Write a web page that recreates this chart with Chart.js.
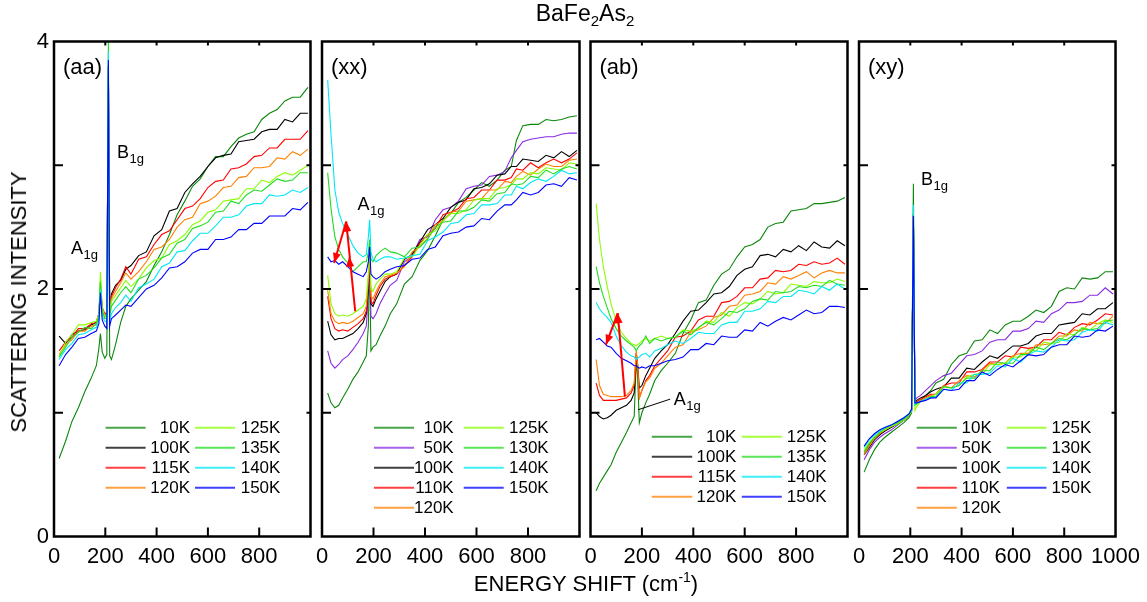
<!DOCTYPE html>
<html>
<head>
<meta charset="utf-8">
<title>BaFe2As2 Raman spectra</title>
<script src="https://cdn.jsdelivr.net/npm/chart.js@4.4.1/dist/chart.umd.min.js"></script>
<style>
  html, body { margin: 0; padding: 0; background: #fff; }
  #wrap { position: relative; width: 1147px; height: 602px; overflow: hidden;
          font-family: "Liberation Sans", Arial, sans-serif; color: #000; }
  #wrap canvas { position: absolute; left: 0; top: 0; }
  #title { position: absolute; left: 585px; top: 2px; transform: translateX(-50%);
           font-size: 23px; line-height: 23px; white-space: nowrap; }
  #title sub { font-size: 15px; vertical-align: -5px; line-height: 0; }
  #ytitle { position: absolute; left: 19px; top: 302px; transform: translate(-50%, -50%) rotate(-90deg);
            font-size: 22px; line-height: 22px; white-space: nowrap; }
  #xtitle { position: absolute; left: 586px; top: 573px; transform: translateX(-50%);
            font-size: 22px; line-height: 22px; white-space: nowrap; }
  #xtitle sup { font-size: 14px; vertical-align: 9px; line-height: 0; }
</style>
</head>
<body>
<div id="wrap">
  <canvas id="panel-aa" width="1147" height="602"></canvas>
  <canvas id="panel-xx" width="1147" height="602"></canvas>
  <canvas id="panel-ab" width="1147" height="602"></canvas>
  <canvas id="panel-xy" width="1147" height="602"></canvas>
  <div id="title">BaFe<sub>2</sub>As<sub>2</sub></div>
  <div id="ytitle">SCATTERING INTENSITY</div>
  <div id="xtitle">ENERGY SHIFT (cm<sup>-1</sup>)</div>
</div>
<script>
// axis ticks
const shiftTicks = [0, 200, 400, 600, 800, 1000];
const intensityTicks = [0, 1, 2, 3, 4];
const intensityLabels = [0, 2, 4];

// (aa) polarization
const aaShift = [20, 45, 70, 95, 120, 145, 165, 175, 181, 188, 198, 206, 212, 217, 224, 240, 260, 280, 300, 330, 360, 390, 420, 450, 480, 510, 540, 570, 600, 630, 660, 690, 720, 750, 780, 810, 840, 870, 900, 930, 960, 990];
const aaTemps = ['10K', '100K', '115K', '120K', '125K', '135K', '140K', '150K'];
const aaIntensity = [
  [0.63, 0.77, 0.93, 1.04, 1.17, 1.28, 1.38, 1.52, 1.64, 1.49, 1.44, 1.47, 3.8, 1.46, 1.43, 1.55, 1.73, 1.86, 1.92, 1.99, 2.06, 2.19, 2.3, 2.44, 2.6, 2.71, 2.83, 2.89, 2.99, 3.07, 3.07, 3.15, 3.22, 3.25, 3.27, 3.37, 3.42, 3.45, 3.52, 3.55, 3.55, 3.63],
  [1.62, 1.56, 1.63, 1.66, 1.67, 1.71, 1.73, 1.8, 2.02, 1.83, 1.78, 1.8, 3.8, 1.86, 1.96, 2.03, 2.07, 2.16, 2.19, 2.27, 2.3, 2.43, 2.48, 2.63, 2.65, 2.78, 2.85, 2.91, 2.99, 3.06, 3.08, 3.09, 3.19, 3.2, 3.21, 3.27, 3.29, 3.29, 3.37, 3.35, 3.42, 3.42],
  [1.5, 1.57, 1.61, 1.68, 1.68, 1.72, 1.73, 1.8, 2.05, 1.85, 1.8, 1.81, 3.8, 1.85, 1.94, 2.01, 2.08, 2.18, 2.12, 2.24, 2.26, 2.36, 2.44, 2.47, 2.56, 2.65, 2.67, 2.73, 2.82, 2.87, 2.88, 2.97, 2.98, 3.01, 3.07, 3.08, 3.14, 3.14, 3.21, 3.21, 3.21, 3.28],
  [1.47, 1.55, 1.59, 1.66, 1.66, 1.7, 1.71, 1.78, 2.0, 1.83, 1.78, 1.79, 3.8, 1.82, 1.92, 1.98, 2.05, 2.13, 2.08, 2.14, 2.22, 2.32, 2.34, 2.4, 2.5, 2.56, 2.58, 2.69, 2.71, 2.75, 2.82, 2.83, 2.9, 2.91, 2.98, 2.98, 2.99, 3.06, 3.05, 3.11, 3.08, 3.13],
  [1.45, 1.57, 1.63, 1.71, 1.71, 1.73, 1.74, 1.8, 2.14, 1.85, 1.78, 1.79, 3.8, 1.8, 1.9, 1.95, 2.01, 2.07, 2.02, 2.08, 2.17, 2.23, 2.25, 2.36, 2.39, 2.44, 2.52, 2.55, 2.62, 2.64, 2.71, 2.72, 2.73, 2.81, 2.81, 2.88, 2.86, 2.91, 2.94, 2.92, 2.96, 3.0],
  [1.45, 1.53, 1.61, 1.65, 1.69, 1.68, 1.72, 1.77, 2.06, 1.82, 1.76, 1.77, 4.0, 1.78, 1.86, 1.91, 1.97, 2.02, 1.97, 2.08, 2.11, 2.17, 2.25, 2.28, 2.37, 2.4, 2.49, 2.51, 2.54, 2.62, 2.63, 2.71, 2.69, 2.76, 2.8, 2.79, 2.84, 2.89, 2.87, 2.88, 2.94, 2.94],
  [1.43, 1.51, 1.56, 1.63, 1.64, 1.67, 1.69, 1.75, 2.0, 1.78, 1.74, 1.73, 3.92, 1.74, 1.8, 1.85, 1.89, 1.95, 1.9, 2.01, 2.04, 2.08, 2.18, 2.21, 2.3, 2.31, 2.39, 2.45, 2.45, 2.51, 2.58, 2.58, 2.6, 2.67, 2.69, 2.69, 2.76, 2.75, 2.76, 2.8, 2.78, 2.82],
  [1.38, 1.47, 1.53, 1.6, 1.61, 1.64, 1.66, 1.72, 1.97, 1.75, 1.7, 1.68, 3.85, 1.7, 1.76, 1.79, 1.83, 1.87, 1.86, 1.93, 2.0, 2.03, 2.09, 2.17, 2.18, 2.22, 2.29, 2.32, 2.32, 2.4, 2.4, 2.42, 2.48, 2.48, 2.53, 2.53, 2.59, 2.59, 2.59, 2.65, 2.64, 2.7]
];

// (xx) polarization
const xxShift = [22, 35, 50, 65, 80, 100, 120, 140, 160, 172, 180, 185, 190, 198, 210, 225, 245, 265, 290, 320, 350, 380, 410, 440, 470, 500, 530, 560, 590, 620, 650, 680, 710, 735, 755, 780, 810, 840, 870, 900, 930, 960, 990];
const xxTemps = ['10K', '50K', '100K', '110K', '120K', '125K', '130K', '140K', '150K'];
const xxIntensity = [
  [1.16, 1.08, 1.04, 1.06, 1.12, 1.19, 1.27, 1.33, 1.41, 1.46, 1.7, 2.25, 1.5, 1.53, 1.55, 1.62, 1.7, 1.8, 1.88, 2.04, 2.1, 2.23, 2.31, 2.43, 2.56, 2.61, 2.7, 2.74, 2.8, 2.86, 2.83, 2.88, 2.96, 2.99, 3.2, 3.32, 3.33, 3.33, 3.37, 3.36, 3.37, 3.39, 3.4],
  [1.5, 1.4, 1.36, 1.39, 1.43, 1.46, 1.51, 1.57, 1.64, 1.7, 1.95, 2.25, 1.78, 1.76, 1.8, 1.88, 1.96, 2.03, 2.07, 2.22, 2.27, 2.4, 2.42, 2.56, 2.64, 2.66, 2.71, 2.81, 2.83, 2.84, 2.91, 2.92, 2.95, 3.06, 3.12, 3.19, 3.21, 3.22, 3.23, 3.23, 3.25, 3.26, 3.26],
  [1.74, 1.63, 1.59, 1.6, 1.6, 1.62, 1.64, 1.68, 1.73, 1.8, 2.0, 2.3, 1.88, 1.86, 1.92, 1.98, 2.06, 2.1, 2.12, 2.24, 2.28, 2.38, 2.48, 2.52, 2.57, 2.66, 2.7, 2.72, 2.81, 2.82, 2.85, 2.92, 2.93, 2.99, 2.99, 3.05, 3.04, 3.03, 3.08, 3.06, 3.11, 3.07, 3.12],
  [1.94, 1.76, 1.68, 1.66, 1.67, 1.66, 1.69, 1.72, 1.76, 1.82, 2.05, 2.3, 1.9, 1.88, 1.95, 2.02, 2.08, 2.1, 2.12, 2.19, 2.26, 2.37, 2.44, 2.49, 2.6, 2.62, 2.65, 2.73, 2.74, 2.8, 2.8, 2.88, 2.88, 2.9, 2.97, 2.96, 3.02, 2.98, 3.02, 3.05, 3.02, 3.05, 3.1],
  [1.99, 1.8, 1.74, 1.72, 1.73, 1.72, 1.74, 1.77, 1.8, 1.86, 2.08, 2.32, 1.94, 1.92, 1.98, 2.04, 2.1, 2.11, 2.13, 2.18, 2.3, 2.34, 2.41, 2.52, 2.55, 2.62, 2.63, 2.71, 2.72, 2.73, 2.8, 2.8, 2.87, 2.86, 2.91, 2.95, 2.92, 2.97, 3.01, 2.99, 2.99, 3.04, 3.05],
  [2.11, 1.88, 1.8, 1.78, 1.79, 1.78, 1.8, 1.83, 1.86, 1.92, 2.12, 2.36, 2.0, 1.98, 2.04, 2.08, 2.12, 2.12, 2.14, 2.25, 2.26, 2.35, 2.44, 2.47, 2.55, 2.61, 2.61, 2.64, 2.72, 2.73, 2.73, 2.81, 2.82, 2.84, 2.89, 2.89, 2.94, 2.93, 2.98, 2.97, 2.96, 3.02, 3.01],
  [2.94, 2.65, 2.42, 2.32, 2.26, 2.21, 2.14, 2.18, 2.22, 2.22, 2.3, 2.4, 2.24, 2.22, 2.27, 2.3, 2.33, 2.3, 2.29, 2.26, 2.33, 2.34, 2.4, 2.5, 2.54, 2.55, 2.63, 2.63, 2.66, 2.72, 2.71, 2.77, 2.78, 2.85, 2.84, 2.85, 2.91, 2.9, 2.96, 2.93, 2.97, 2.99, 2.97],
  [3.69, 3.25, 2.8, 2.62, 2.53, 2.44, 2.35, 2.29, 2.26, 2.28, 2.42, 2.56, 2.3, 2.24, 2.22, 2.24, 2.26, 2.26, 2.24, 2.25, 2.27, 2.28, 2.39, 2.42, 2.46, 2.53, 2.54, 2.6, 2.61, 2.68, 2.68, 2.69, 2.76, 2.76, 2.83, 2.81, 2.86, 2.89, 2.87, 2.91, 2.96, 2.93, 2.94],
  [2.26, 2.22, 2.23, 2.2, 2.22, 2.18, 2.14, 2.12, 2.1, 2.14, 2.22, 2.34, 2.12, 2.1, 2.08, 2.1, 2.14, 2.16, 2.18, 2.19, 2.24, 2.25, 2.32, 2.34, 2.43, 2.45, 2.46, 2.5, 2.51, 2.57, 2.56, 2.63, 2.68, 2.68, 2.72, 2.78, 2.76, 2.78, 2.84, 2.85, 2.83, 2.9, 2.88]
];

// (ab) polarization
const abShift = [22, 35, 50, 65, 80, 100, 120, 140, 158, 170, 178, 183, 190, 200, 215, 230, 250, 275, 300, 330, 360, 390, 420, 450, 480, 510, 540, 570, 600, 630, 660, 690, 720, 750, 780, 810, 840, 870, 900, 930, 960, 990];
const abTemps = ['10K', '100K', '115K', '120K', '125K', '135K', '140K', '150K'];
const abIntensity = [
  [0.37, 0.43, 0.48, 0.53, 0.58, 0.68, 0.76, 0.84, 0.92, 0.97, 1.42, 1.3, 0.92, 1.0, 1.08, 1.15, 1.26, 1.34, 1.4, 1.48, 1.64, 1.75, 1.89, 1.91, 2.03, 2.12, 2.16, 2.26, 2.34, 2.36, 2.4, 2.5, 2.53, 2.54, 2.63, 2.64, 2.65, 2.69, 2.69, 2.7, 2.71, 2.74],
  [1.0, 0.97, 0.95, 0.96, 0.98, 1.02, 1.04, 1.06, 1.1, 1.16, 1.48, 1.4, 1.2, 1.22, 1.3, 1.36, 1.44, 1.5, 1.55, 1.64, 1.74, 1.82, 1.83, 1.89, 1.96, 1.97, 2.02, 2.11, 2.16, 2.18, 2.27, 2.28, 2.26, 2.32, 2.3, 2.35, 2.31, 2.38, 2.34, 2.33, 2.39, 2.35],
  [1.24, 1.14, 1.1, 1.1, 1.1, 1.1, 1.11, 1.12, 1.16, 1.22, 1.48, 1.38, 1.12, 1.18, 1.26, 1.3, 1.38, 1.44, 1.5, 1.61, 1.62, 1.66, 1.75, 1.78, 1.78, 1.89, 1.9, 1.94, 2.01, 2.01, 2.08, 2.09, 2.15, 2.14, 2.15, 2.2, 2.19, 2.22, 2.2, 2.21, 2.25, 2.2],
  [1.43, 1.22, 1.15, 1.14, 1.13, 1.13, 1.13, 1.14, 1.18, 1.24, 1.5, 1.4, 1.12, 1.18, 1.25, 1.28, 1.36, 1.4, 1.46, 1.53, 1.55, 1.65, 1.67, 1.7, 1.77, 1.79, 1.86, 1.87, 1.95, 1.96, 1.98, 2.05, 2.04, 2.1, 2.08, 2.11, 2.14, 2.09, 2.13, 2.15, 2.13, 2.13],
  [2.69, 2.4, 2.18, 2.02, 1.88, 1.74, 1.65, 1.6, 1.56, 1.55, 1.54, 1.55, 1.56, 1.58, 1.6, 1.58, 1.6, 1.62, 1.6, 1.61, 1.67, 1.66, 1.68, 1.74, 1.73, 1.81, 1.78, 1.85, 1.89, 1.88, 1.92, 1.98, 1.96, 1.97, 2.04, 2.03, 2.02, 2.06, 2.05, 2.05, 2.08, 2.06],
  [2.18, 2.05, 1.94, 1.85, 1.76, 1.68, 1.62, 1.58, 1.55, 1.53, 1.5, 1.52, 1.54, 1.56, 1.62, 1.56, 1.6, 1.58, 1.6, 1.61, 1.66, 1.63, 1.69, 1.73, 1.71, 1.76, 1.82, 1.81, 1.84, 1.9, 1.92, 1.91, 1.98, 1.97, 1.98, 2.02, 2.01, 2.03, 2.02, 2.07, 2.04, 2.03],
  [1.89, 1.84, 1.8, 1.77, 1.73, 1.62, 1.54, 1.49, 1.46, 1.45, 1.43, 1.44, 1.45, 1.47, 1.48, 1.45, 1.5, 1.52, 1.55, 1.58, 1.56, 1.6, 1.65, 1.64, 1.64, 1.71, 1.73, 1.73, 1.82, 1.82, 1.84, 1.9, 1.89, 1.94, 1.94, 1.99, 1.98, 1.96, 2.02, 1.99, 2.04, 2.0],
  [1.59, 1.6, 1.57, 1.54, 1.53, 1.48, 1.44, 1.42, 1.4, 1.38, 1.38, 1.37, 1.36, 1.37, 1.36, 1.38, 1.38, 1.4, 1.42, 1.43, 1.45, 1.51, 1.51, 1.56, 1.55, 1.62, 1.61, 1.61, 1.67, 1.66, 1.73, 1.7, 1.74, 1.77, 1.75, 1.79, 1.83, 1.8, 1.81, 1.86, 1.86, 1.85]
];

// (xy) polarization
const xyShift = [20, 40, 60, 80, 100, 125, 150, 175, 195, 205, 212, 218, 225, 240, 260, 280, 300, 330, 360, 390, 420, 450, 480, 510, 540, 570, 600, 630, 660, 690, 720, 750, 780, 810, 840, 870, 900, 930, 960, 990];
const xyTemps = ['10K', '50K', '100K', '110K', '120K', '125K', '130K', '140K', '150K'];
const xyIntensity = [
  [0.52, 0.62, 0.7, 0.76, 0.8, 0.84, 0.88, 0.92, 0.96, 1.0, 2.85, 1.1, 1.08, 1.1, 1.14, 1.18, 1.24, 1.27, 1.39, 1.46, 1.48, 1.58, 1.59, 1.67, 1.64, 1.71, 1.74, 1.74, 1.78, 1.83, 1.81, 1.86, 1.98, 2.01, 2.0, 2.09, 2.08, 2.09, 2.14, 2.14],
  [0.62, 0.7, 0.76, 0.8, 0.83, 0.86, 0.9, 0.94, 0.98, 1.02, 2.6, 1.1, 1.12, 1.14, 1.18, 1.22, 1.26, 1.3, 1.32, 1.39, 1.46, 1.47, 1.5, 1.57, 1.59, 1.59, 1.66, 1.66, 1.68, 1.74, 1.73, 1.8, 1.83, 1.89, 1.89, 1.9, 1.95, 1.95, 2.01, 1.96],
  [0.66, 0.72, 0.78, 0.82, 0.85, 0.88, 0.91, 0.94, 0.98, 1.02, 2.6, 1.08, 1.1, 1.12, 1.14, 1.17, 1.19, 1.21, 1.28, 1.28, 1.36, 1.35, 1.41, 1.46, 1.44, 1.49, 1.54, 1.54, 1.56, 1.62, 1.64, 1.64, 1.71, 1.72, 1.73, 1.8, 1.79, 1.84, 1.84, 1.89],
  [0.68, 0.74, 0.8, 0.83, 0.86, 0.89, 0.92, 0.95, 0.99, 1.02, 2.6, 1.08, 1.09, 1.11, 1.13, 1.15, 1.15, 1.22, 1.24, 1.24, 1.33, 1.33, 1.35, 1.41, 1.41, 1.46, 1.45, 1.53, 1.52, 1.53, 1.59, 1.59, 1.65, 1.63, 1.69, 1.72, 1.71, 1.75, 1.8, 1.79],
  [0.66, 0.73, 0.79, 0.83, 0.86, 0.89, 0.92, 0.95, 0.99, 1.02, 2.6, 1.07, 1.08, 1.1, 1.12, 1.14, 1.15, 1.22, 1.2, 1.26, 1.3, 1.29, 1.34, 1.4, 1.39, 1.4, 1.46, 1.48, 1.48, 1.55, 1.55, 1.56, 1.62, 1.62, 1.67, 1.66, 1.73, 1.72, 1.72, 1.78],
  [0.7, 0.76, 0.8, 0.84, 0.86, 0.89, 0.91, 0.94, 0.98, 1.01, 2.6, 1.02, 1.05, 1.09, 1.11, 1.13, 1.15, 1.21, 1.2, 1.22, 1.29, 1.31, 1.31, 1.39, 1.39, 1.4, 1.45, 1.45, 1.51, 1.5, 1.57, 1.56, 1.57, 1.64, 1.63, 1.69, 1.67, 1.72, 1.75, 1.73],
  [0.68, 0.75, 0.8, 0.84, 0.87, 0.9, 0.92, 0.95, 0.99, 1.02, 2.6, 1.06, 1.07, 1.09, 1.11, 1.13, 1.13, 1.21, 1.2, 1.22, 1.28, 1.28, 1.34, 1.34, 1.41, 1.4, 1.4, 1.47, 1.47, 1.53, 1.51, 1.56, 1.6, 1.59, 1.63, 1.68, 1.67, 1.68, 1.74, 1.75],
  [0.72, 0.78, 0.82, 0.85, 0.88, 0.9, 0.93, 0.96, 0.99, 1.03, 2.68, 1.07, 1.08, 1.09, 1.11, 1.12, 1.13, 1.19, 1.18, 1.24, 1.24, 1.31, 1.31, 1.32, 1.38, 1.37, 1.44, 1.41, 1.47, 1.5, 1.49, 1.53, 1.59, 1.58, 1.59, 1.65, 1.67, 1.66, 1.73, 1.71],
  [0.73, 0.79, 0.83, 0.86, 0.88, 0.9, 0.93, 0.96, 0.99, 1.03, 2.59, 1.08, 1.08, 1.09, 1.1, 1.12, 1.12, 1.19, 1.18, 1.19, 1.26, 1.26, 1.33, 1.3, 1.35, 1.39, 1.37, 1.42, 1.47, 1.46, 1.47, 1.53, 1.55, 1.55, 1.62, 1.61, 1.62, 1.67, 1.66, 1.7]
];

const tempColors = {
  '10K': '#0b880b', '50K': '#8a2be2', '100K': '#000000', '110K': '#ff0000', '115K': '#ff0000',
  '120K': '#ff8000', '125K': '#88ff00', '130K': '#22dd22', '135K': '#22dd22', '140K': '#00e8f4', '150K': '#0000ff'
};

const FONT = '"Liberation Sans", Arial, sans-serif';

const panels = [
  { key: 'aa', tag: '(aa)', shift: aaShift, temps: aaTemps, values: aaIntensity,
    left: 54, right: 310.5, yLabels: true, lastLabel: false,
    legend: { top: 427.7, cols: [ { x1: 51.6, x2: 91.6, tx: 136, align: 'right', items: [0, 1, 2, 3] },
                                  { x1: 141, x2: 181, tx: 186.7, align: 'left', items: [4, 5, 6, 7] } ] },
    labels: [ { main: 'A', sub: '1g', x: 66, y: 2.28 }, { main: 'B', sub: '1g', x: 246, y: 3.06 } ],
    arrows: [], pointers: [] },
  { key: 'xx', tag: '(xx)', shift: xxShift, temps: xxTemps, values: xxIntensity,
    left: 322, right: 579.5, yLabels: false, lastLabel: false,
    legend: { top: 427.7, cols: [ { x1: 52, x2: 92, tx: 131.7, align: 'right', items: [0, 1, 2, 3, 4] },
                                  { x1: 141.7, x2: 181.7, tx: 187, align: 'left', items: [5, 6, 7, 8] } ] },
    labels: [ { main: 'A', sub: '1g', x: 138, y: 2.64 } ],
    arrows: [ { from: [129, 1.82], to: [94, 2.545], mid: [105, 2.26] }, { from: [94, 2.545], to: [47, 2.21] } ],
    pointers: [] },
  { key: 'ab', tag: '(ab)', shift: abShift, temps: abTemps, values: abIntensity,
    left: 590.5, right: 847.5, yLabels: false, lastLabel: false,
    legend: { top: 436.7, cols: [ { x1: 61.3, x2: 101.7, tx: 145.8, align: 'right', items: [0, 1, 2, 3] },
                                  { x1: 151.3, x2: 191.3, tx: 196.3, align: 'left', items: [4, 5, 6, 7] } ] },
    labels: [ { main: 'A', sub: '1g', x: 324, y: 1.064 } ],
    arrows: [ { from: [134, 1.13], to: [106, 1.805] }, { from: [106, 1.805], to: [60, 1.55] } ],
    pointers: [ { from: [185, 1.024], to: [310, 1.11] } ] },
  { key: 'xy', tag: '(xy)', shift: xyShift, temps: xyTemps, values: xyIntensity,
    left: 859, right: 1116.5, yLabels: false, lastLabel: true,
    legend: { top: 427.7, cols: [ { x1: 57.7, x2: 97.8, tx: 102.5, align: 'left', items: [0, 1, 2, 3, 4] },
                                  { x1: 147.8, x2: 187.5, tx: 192.6, align: 'left', items: [5, 6, 7, 8] } ] },
    labels: [ { main: 'B', sub: '1g', x: 242, y: 2.84 } ],
    arrows: [], pointers: [] }
];

function seg(ctx, x0, y0, x1, y1){
  ctx.beginPath(); ctx.moveTo(x0, y0); ctx.lineTo(x1, y1); ctx.stroke();
}

function head(ctx, x0, y0, x1, y1){
  const a = Math.atan2(y1 - y0, x1 - x0), len = 10, half = 4;
  const bx = x1 - len * Math.cos(a), by = y1 - len * Math.sin(a);
  ctx.beginPath();
  ctx.moveTo(x1, y1);
  ctx.lineTo(bx + half * Math.sin(a), by - half * Math.cos(a));
  ctx.lineTo(bx - half * Math.sin(a), by + half * Math.cos(a));
  ctx.closePath();
  ctx.fill();
}

// box, inward ticks, legend, annotations
const decorPlugin = {
  id: 'decor',
  afterDraw(chart, args, opts){
    const { ctx, chartArea: a, scales: { x, y } } = chart;
    const p = opts.panel;
    ctx.save();
    ctx.strokeStyle = '#000';
    ctx.lineWidth = 2;
    shiftTicks.forEach(v => {
      if (v <= 0 || v >= 1000) return;
      const px = x.getPixelForValue(v);
      seg(ctx, px, a.bottom, px, a.bottom - 9);
      seg(ctx, px, a.top, px, a.top + 4);
    });
    intensityTicks.forEach(v => {
      if (v <= 0 || v >= 4) return;
      const py = y.getPixelForValue(v);
      seg(ctx, a.left, py, a.left + 9, py);
      seg(ctx, a.right, py, a.right - 4, py);
    });
    ctx.lineWidth = 2.5;
    ctx.strokeRect(a.left, a.top, a.right - a.left, a.bottom - a.top);

    // panel tag
    ctx.fillStyle = '#000';
    ctx.font = '22px ' + FONT;
    ctx.textAlign = 'left';
    ctx.textBaseline = 'alphabetic';
    ctx.fillText(p.tag, a.left + 9, 74);

    // legend
    ctx.font = '17px ' + FONT;
    ctx.textBaseline = 'middle';
    p.legend.cols.forEach(col => {
      col.items.forEach((idx, r) => {
        const ds = chart.data.datasets[idx];
        const yy = p.legend.top + r * 20;
        ctx.globalAlpha = 0.75;
        ctx.strokeStyle = ds.borderColor;
        ctx.lineWidth = 2;
        seg(ctx, a.left + col.x1, yy, a.left + col.x2, yy);
        ctx.globalAlpha = 1;
        ctx.fillStyle = '#000';
        ctx.textAlign = col.align;
        ctx.fillText(ds.label, a.left + col.tx, yy + 1);
      });
    });

    // phonon labels
    ctx.textAlign = 'left';
    ctx.textBaseline = 'alphabetic';
    p.labels.forEach(l => {
      const lx = x.getPixelForValue(l.x), ly = y.getPixelForValue(l.y);
      ctx.font = '18px ' + FONT;
      ctx.fillText(l.main, lx, ly);
      const w = ctx.measureText(l.main).width;
      ctx.font = '13px ' + FONT;
      ctx.fillText(l.sub, lx + w + 0.5, ly + 5);
    });

    ctx.strokeStyle = '#000';
    ctx.lineWidth = 1;
    p.pointers.forEach(q => {
      seg(ctx, x.getPixelForValue(q.from[0]), y.getPixelForValue(q.from[1]),
               x.getPixelForValue(q.to[0]), y.getPixelForValue(q.to[1]));
    });

    ctx.strokeStyle = '#ff0000';
    ctx.fillStyle = '#ff0000';
    ctx.lineWidth = 2;
    p.arrows.forEach(q => {
      const x0 = x.getPixelForValue(q.from[0]), y0 = y.getPixelForValue(q.from[1]);
      const x1 = x.getPixelForValue(q.to[0]), y1 = y.getPixelForValue(q.to[1]);
      seg(ctx, x0, y0, x1, y1);
      head(ctx, x0, y0, x1, y1);
      if (q.mid) head(ctx, x0, y0, x.getPixelForValue(q.mid[0]), y.getPixelForValue(q.mid[1]));
    });
    ctx.restore();
  }
};

function buildPanel(p){
  const datasets = p.temps.map((t, i) => ({
    label: t,
    data: p.shift.map((s, j) => ({ x: s, y: p.values[i][j] })),
    borderColor: tempColors[t],
    borderWidth: 1.1,
    pointRadius: 0,
    tension: 0,
    fill: false,
    order: p.temps.length - i
  }));
  const tickFont = { size: 22, family: FONT };
  return new Chart(document.getElementById('panel-' + p.key), {
    type: 'line',
    data: { datasets },
    plugins: [decorPlugin],
    options: {
      responsive: false,
      animation: false,
      events: [],
      layout: { padding: { left: p.left - 40, right: 1147 - p.right, top: 41.5, bottom: 602 - 536.5 - 40 } },
      plugins: {
        legend: { display: false },
        tooltip: { enabled: false },
        decor: { panel: p }
      },
      scales: {
        x: {
          type: 'linear', min: 0, max: 1000,
          afterBuildTicks: s => { s.ticks = shiftTicks.map(v => ({ value: v })); },
          afterFit: s => { s.height = 40; },
          grid: { display: false, drawTicks: false },
          border: { display: false },
          ticks: { autoSkip: false, maxRotation: 0, padding: 7, color: '#000', font: tickFont,
                   callback: v => (v === 1000 && !p.lastLabel) ? '' : String(v) }
        },
        y: {
          type: 'linear', min: 0, max: 4,
          afterBuildTicks: s => { s.ticks = intensityTicks.map(v => ({ value: v })); },
          afterFit: s => { s.width = 40; },
          grid: { display: false, drawTicks: false },
          border: { display: false },
          ticks: { display: p.yLabels, padding: 5, color: '#000', font: tickFont,
                   callback: v => intensityLabels.includes(v) ? String(v) : '' }
        }
      }
    }
  });
}

panels.forEach(buildPanel);
</script>
</body>
</html>
